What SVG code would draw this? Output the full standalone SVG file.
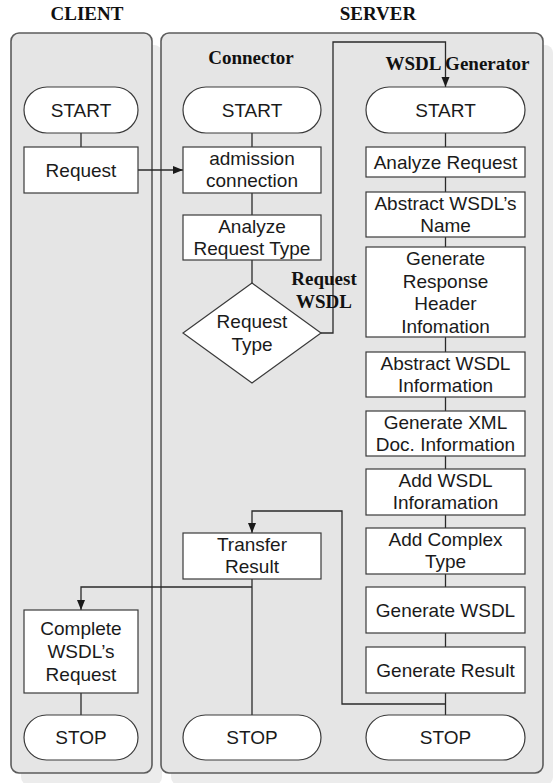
<svg xmlns="http://www.w3.org/2000/svg" width="556" height="783" viewBox="0 0 556 783">
<defs>
<marker id="ah" markerUnits="userSpaceOnUse" markerWidth="11" markerHeight="9" refX="10" refY="4" orient="auto">
<path d="M0,0 L10,4 L0,8 z" fill="#1a1a1a"/>
</marker>
<style>
.lane{fill:#e5e5e5;stroke:#5c5c5c;stroke-width:1.6}
.shadow{fill:#ececec}
.box{fill:#fff;stroke:#3a3a3a;stroke-width:1.2}
.t{font-family:"Liberation Sans",Arial,sans-serif;font-size:19px;fill:#1a1a1a;text-anchor:middle}
.h{font-family:"Liberation Serif","Times New Roman",serif;font-size:19px;font-weight:bold;fill:#111;text-anchor:middle}
.c{fill:none;stroke:#2a2a2a;stroke-width:1.3}
</style>
</defs>
<rect width="556" height="783" fill="#fff"/>
<g id="lanes">
<rect class="shadow" x="21" y="45" width="141" height="740" rx="8"/>
<rect class="shadow" x="171" y="45" width="382" height="740" rx="8"/>
<rect class="lane" x="11" y="33" width="141" height="740" rx="8"/>
<rect class="lane" x="161" y="33" width="382" height="740" rx="8"/>
</g>
<g id="headers">
<text class="h" x="87" y="20">CLIENT</text>
<text class="h" x="378" y="20">SERVER</text>
<text class="h" x="251" y="64">Connector</text>
</g>
<g id="connectors">
<path class="c" d="M81,133 V147"/>
<path class="c" d="M81,693 V715"/>
<path class="c" d="M138,170 H183" marker-end="url(#ah)"/>
<path class="c" d="M252,133 V147"/>
<path class="c" d="M252,193 V215"/>
<path class="c" d="M252,260 V283"/>
<path class="c" d="M321,333 H333 V42 H445.5 V87" marker-end="url(#ah)"/>
<path class="c" d="M445.5,133 V715"/>
<path class="c" d="M445.5,704 H342 V511 H252 V533" marker-end="url(#ah)"/>
<path class="c" d="M252,579 V715"/>
<path class="c" d="M252,587 H81 V610" marker-end="url(#ah)"/>
</g>
<g id="wsdl-gen-label"><text class="h" x="457.5" y="70">WSDL Generator</text></g>
<g id="label-request-wsdl"><text class="h" x="324" y="285">Request</text><text class="h" x="324" y="308">WSDL</text></g>
<g id="client-start"><rect class="box" x="24" y="87" width="114" height="46" rx="23"/><text class="t" x="81" y="116.5">START</text></g>
<g id="client-request"><rect class="box" x="24" y="147" width="114" height="46"/><text class="t" x="81" y="176.5">Request</text></g>
<g id="client-complete"><rect class="box" x="24" y="610" width="114" height="83"/><text class="t" x="81" y="635">Complete</text><text class="t" x="81" y="658">WSDL’s</text><text class="t" x="81" y="681">Request</text></g>
<g id="client-stop"><rect class="box" x="24" y="715" width="114" height="45" rx="22.5"/><text class="t" x="81" y="744">STOP</text></g>
<g id="conn-start"><rect class="box" x="183" y="87" width="138" height="46" rx="23"/><text class="t" x="252" y="116.5">START</text></g>
<g id="conn-admission"><rect class="box" x="183" y="147" width="138" height="46"/><text class="t" x="252" y="165">admission</text><text class="t" x="252" y="187">connection</text></g>
<g id="conn-analyze"><rect class="box" x="183" y="215" width="138" height="45"/><text class="t" x="252" y="233">Analyze</text><text class="t" x="252" y="255">Request Type</text></g>
<g id="conn-decision"><polygon class="box" points="252,283 321,333 252,383 183,333"/><text class="t" x="252" y="328">Request</text><text class="t" x="252" y="351">Type</text></g>
<g id="conn-transfer"><rect class="box" x="183" y="533" width="138" height="46"/><text class="t" x="252" y="551">Transfer</text><text class="t" x="252" y="573">Result</text></g>
<g id="conn-stop"><rect class="box" x="183" y="715" width="138" height="45" rx="22.5"/><text class="t" x="252" y="744">STOP</text></g>
<g id="gen-start"><rect class="box" x="366" y="87" width="159" height="46" rx="23"/><text class="t" x="445.5" y="116.5">START</text></g>
<g id="gen-analyze"><rect class="box" x="366" y="147" width="159" height="30"/><text class="t" x="445.5" y="168.5">Analyze Request</text></g>
<g id="gen-abstract-name"><rect class="box" x="366" y="192" width="159" height="45"/><text class="t" x="445.5" y="210">Abstract WSDL’s</text><text class="t" x="445.5" y="232">Name</text></g>
<g id="gen-header"><rect class="box" x="366" y="247" width="159" height="90"/><text class="t" x="445.5" y="265">Generate</text><text class="t" x="445.5" y="287.5">Response</text><text class="t" x="445.5" y="310">Header</text><text class="t" x="445.5" y="332.5">Infomation</text></g>
<g id="gen-abstract-info"><rect class="box" x="366" y="352" width="159" height="45"/><text class="t" x="445.5" y="370">Abstract WSDL</text><text class="t" x="445.5" y="392">Information</text></g>
<g id="gen-xml"><rect class="box" x="366" y="411" width="159" height="45"/><text class="t" x="445.5" y="429">Generate XML</text><text class="t" x="445.5" y="451">Doc. Information</text></g>
<g id="gen-add-wsdl"><rect class="box" x="366" y="469" width="159" height="46"/><text class="t" x="445.5" y="487">Add WSDL</text><text class="t" x="445.5" y="509">Inforamation</text></g>
<g id="gen-complex"><rect class="box" x="366" y="528" width="159" height="46"/><text class="t" x="445.5" y="546">Add Complex</text><text class="t" x="445.5" y="568">Type</text></g>
<g id="gen-wsdl"><rect class="box" x="366" y="587" width="159" height="46"/><text class="t" x="445.5" y="616.5">Generate WSDL</text></g>
<g id="gen-result"><rect class="box" x="366" y="647" width="159" height="46"/><text class="t" x="445.5" y="676.5">Generate Result</text></g>
<g id="gen-stop"><rect class="box" x="366" y="715" width="159" height="45" rx="22.5"/><text class="t" x="445.5" y="744">STOP</text></g>
</svg>
